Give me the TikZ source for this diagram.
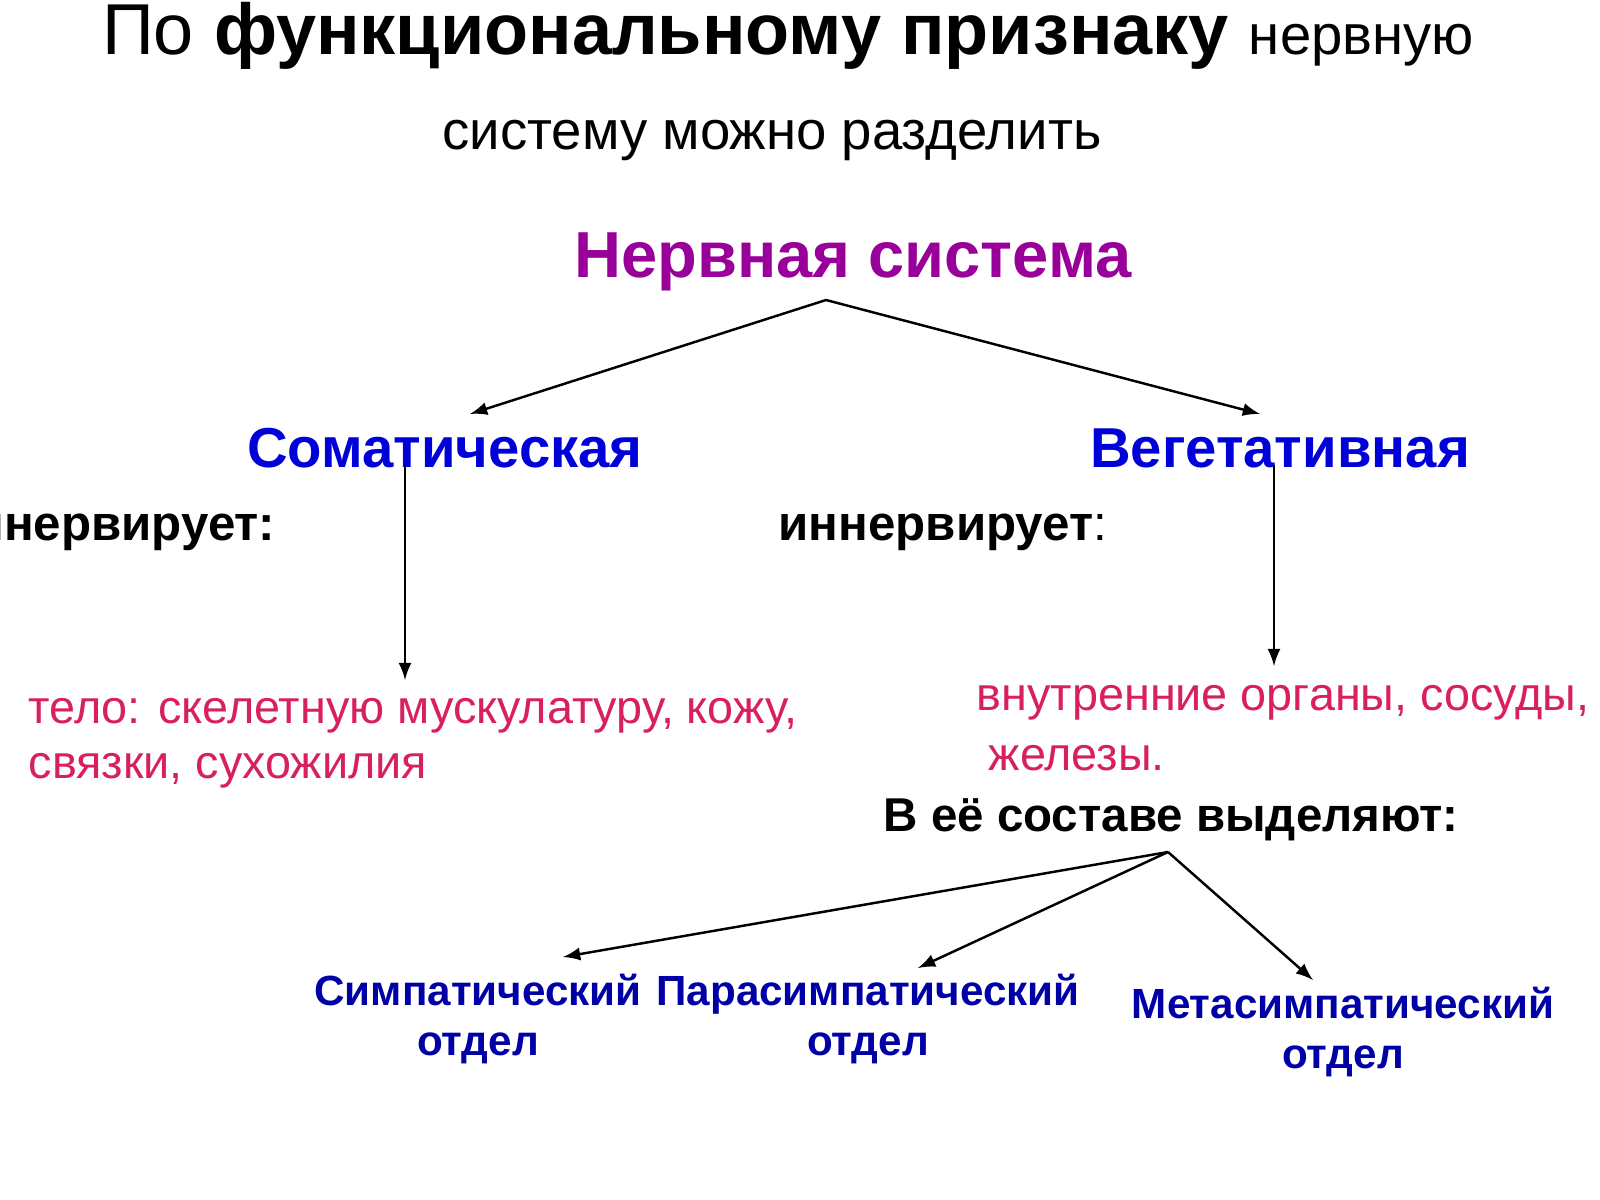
\documentclass[tikz,border=0pt]{standalone}
\usepackage{fontspec}
\setmainfont{Liberation Sans}
\definecolor{pinkred}{HTML}{D8205E}
\begin{document}
\begin{tikzpicture}[x=0.01cm,y=-0.01cm,
  arr/.style={-latex,line width=0.7pt},
  hd/.style={font=\fontsize{16}{18}\selectfont\bfseries,text=blue!85!black,inner sep=0},
  sub/.style={font=\fontsize{12}{13}\selectfont\bfseries,text=blue!65!black,align=center,inner sep=0},
  red/.style={font=\fontsize{13.3}{16}\selectfont,text=pinkred,anchor=west,inner sep=0},
  lbl/.style={font=\fontsize{14}{16}\selectfont\bfseries,inner sep=0}]
\useasboundingbox (0,0) rectangle (1600,1200);
\node[inner sep=0,font=\fontsize{20.5}{23}\selectfont] (t1) at (788,36) {По \textbf{функциональному признаку} {\fontsize{16}{18}\selectfont нервную}};
\node[inner sep=0,font=\fontsize{15.5}{18}\selectfont] (t2) at (772,140) {систему можно разделить};
\node[inner sep=0,font=\fontsize{18.5}{20}\selectfont\bfseries,text=violet!80!magenta] (ns) at (853,262) {Нервная система};
\node[hd] (som) at (445,448) {Соматическая};
\node[hd] (veg) at (1280,448) {Вегетативная};
\coordinate (top) at (826,300);
\coordinate (sa) at (470,414);
\coordinate (va) at (1260,414);
\draw[arr] (top) -- (sa);
\draw[arr] (top) -- (va);
\node[lbl,anchor=east] (inn1) at (276,532) {иннервирует:};
\node[lbl,anchor=west] (inn2) at (778,532) {иннервирует\textmd{:}};
\coordinate (s1) at (405,465); \coordinate (s2) at (405,680);
\coordinate (v1) at (1274,465); \coordinate (v2) at (1274,666);
\draw[arr] (s1) -- (s2);
\draw[arr] (v1) -- (v2);
\node[red] (r1) at (28,716) {тело: скелетную мускулатуру, кожу,};
\node[red] (r2) at (28,771) {связки, сухожилия};
\node[red] (r3) at (976,703) {внутренние органы, сосуды,};
\node[red] (r4) at (988,758) {железы.};
\node[inner sep=0,anchor=west,font=\fontsize{13.5}{16}\selectfont\bfseries] (sost) at (883,820) {В её составе выделяют:};
\coordinate (b0) at (1168,852);
\node[sub] (sym) at (478,1019) {Симпатический\\[1pt]отдел};
\node[sub] (par) at (868,1019) {Парасимпатический\\[1pt]отдел};
\node[sub] (met) at (1343,1032) {Метасимпатический\\[1pt]отдел};
\coordinate (e1) at (563,957); \coordinate (e2) at (918,968); \coordinate (e3) at (1313,980);
\draw[arr] (b0) -- (e1);
\draw[arr] (b0) -- (e2);
\draw[arr] (b0) -- (e3);
\end{tikzpicture}
\end{document}
